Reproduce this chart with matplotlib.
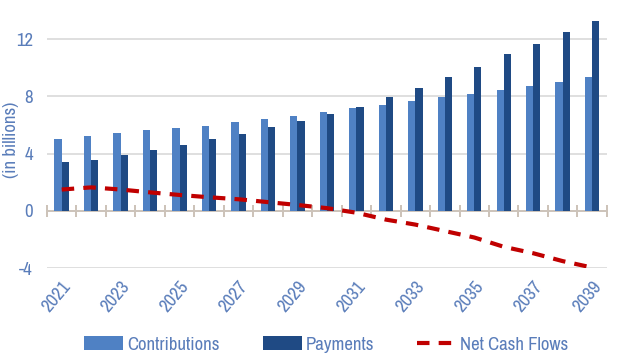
import numpy as np
import matplotlib
matplotlib.use("Agg")
import matplotlib.pyplot as plt
from matplotlib.ticker import FixedLocator

plt.rcParams["font.family"] = ["Archivo Narrow", "Liberation Sans", "DejaVu Sans"]
plt.rcParams["axes.unicode_minus"] = False

years = list(range(2021, 2040))
contributions = [5.0, 5.26, 5.45, 5.66, 5.77, 5.96, 6.22, 6.4, 6.66, 6.89,
                 7.17, 7.42, 7.68, 7.94, 8.17, 8.45, 8.71, 9.03, 9.34]
payments = [3.44, 3.54, 3.93, 4.24, 4.63, 5.0, 5.38, 5.84, 6.28, 6.77,
            7.28, 7.98, 8.57, 9.34, 10.03, 10.94, 11.64, 12.52, 13.29]
net_cash = [1.5, 1.65, 1.5, 1.3, 1.12, 0.96, 0.82, 0.62, 0.42, 0.2,
            -0.12, -0.6, -0.95, -1.4, -1.85, -2.5, -2.95, -3.5, -3.95]
yticks = [-4, 0, 4, 8, 12]

C_CONT = "#4F81C4"
C_PAY = "#1F4A84"
C_NET = "#C00000"
C_TXT = "#5A7DBA"
C_GRID = "#D9D9D9"
C_AXIS = "#CCC2B8"

fig = plt.figure(figsize=(6.18, 3.64), dpi=100)
ax = fig.add_axes([0.076, 0.263, 0.906, 0.708])

x = np.arange(len(years))
w = 0.245
h1 = ax.bar(x - w / 2, contributions, w, color=C_CONT, label="Contributions", zorder=3)
h2 = ax.bar(x + w / 2, payments, w, color=C_PAY, label="Payments", zorder=3)
h3, = ax.plot(x, net_cash, color=C_NET, lw=3, ls=(0, (3, 2.2)), label="Net Cash Flows", zorder=4)

ax.set_xlim(-0.5, len(years) - 0.5)
ax.set_ylim(-4, 14)
ax.set_yticks(yticks)
ax.yaxis.grid(True, color=C_GRID, lw=1.2, zorder=0)
for s in ax.spines.values():
    s.set_visible(False)
ax.tick_params(axis="y", length=0, labelsize=13.5, labelcolor=C_TXT, pad=10)
ax.axhline(0, color=C_AXIS, lw=1.3, zorder=2)

ax.set_xticks(x[::2])
ax.set_xticklabels([str(y) for y in years[::2]], rotation=50, ha="right",
                   rotation_mode="anchor", fontsize=13.5, color=C_TXT)
ax.tick_params(axis="x", length=0, pad=7)

# category-boundary ticks on the zero line
sec = ax.secondary_xaxis(4 / 18)
sec.spines["bottom"].set_visible(False)
sec.spines["top"].set_visible(False)
sec.xaxis.set_major_locator(FixedLocator(np.arange(len(years) + 1) - 0.5))
sec.tick_params(axis="x", which="major", bottom=True, direction="inout", length=9,
                color=C_AXIS, width=1.4, labelbottom=False, labeltop=False)

ax.set_ylabel("(in billions)", fontsize=13.5, color=C_TXT)
ax.yaxis.set_label_coords(-0.05, 0.5)

fig.legend([h1, h2, h3], ["Contributions", "Payments", "Net Cash Flows"],
           loc="lower center", bbox_to_anchor=(0.528, -0.015), ncol=3, frameon=False,
           fontsize=13.5, labelcolor=C_TXT, handlelength=2.1, handletextpad=0.2,
           columnspacing=2.3)

fig.savefig("out.png", dpi=100)
